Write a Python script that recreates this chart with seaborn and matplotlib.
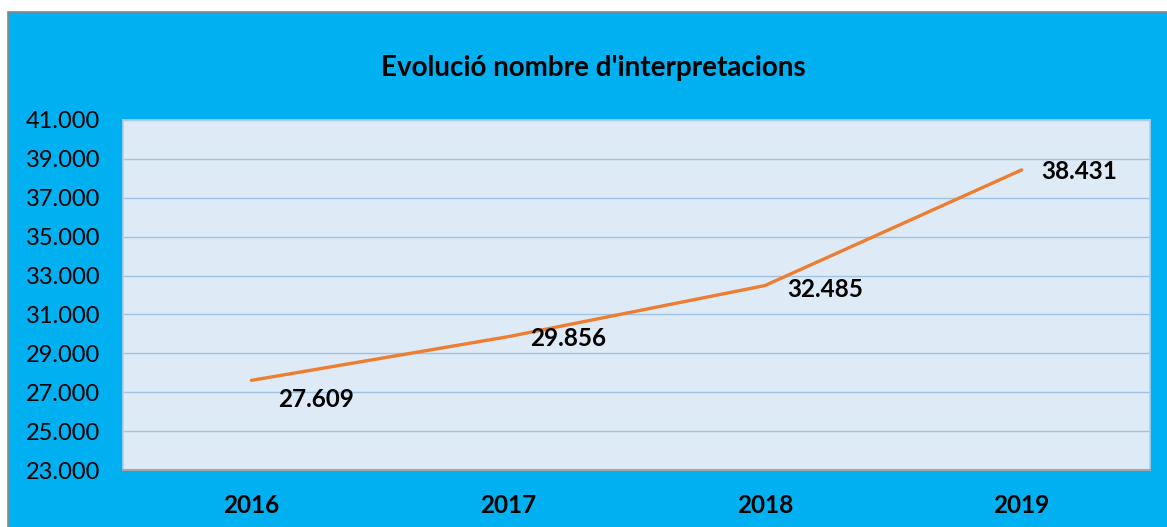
import matplotlib
matplotlib.use("Agg")
import matplotlib.pyplot as plt
import matplotlib.patches as patches
import seaborn as sns
import pandas as pd

# data
years = ["2016", "2017", "2018", "2019"]
interpretacions = [27609, 29856, 32485, 38431]
title = "Evolució nombre d'interpretacions"

# label offsets (pixels) relative to each point
label_dx = [65, 60, 60, 58]
label_dy = [-19, -2, -4, -2]

BLUE = "#00B0F0"
PLOT_BG = "#DEEBF7"
GRID = "#9DC3E6"
ORANGE = "#ED7D31"


def fmt(v):
    return f"{v:,.0f}".replace(",", ".")


def main():
    sns.set_style("white")
    plt.rcParams["font.family"] = ["Lato", "DejaVu Sans"]

    df = pd.DataFrame({"any": years, "valor": interpretacions})

    fig = plt.figure(figsize=(11.67, 5.27), dpi=100, facecolor="white")
    # blue chart area with gray frame, leaving a white strip on top/left
    W, H = 1167, 527
    bg = patches.Rectangle((8 / W, -0.01), 1.02 - 8 / W, 1.01 - 12 / H,
                           transform=fig.transFigure, facecolor=BLUE,
                           edgecolor="#888888", linewidth=1.2, zorder=-10)
    fig.patches.append(bg)

    ax = fig.add_axes([123 / W, 1 - 470 / H, (1150 - 123) / W, (470 - 120) / H])
    ax.set_facecolor(PLOT_BG)

    sns.lineplot(data=df, x="any", y="valor", ax=ax, color=ORANGE,
                 linewidth=2.4, sort=False, zorder=3)

    ax.set_xlim(-0.5, len(years) - 0.5)
    ax.set_ylim(23000, 41000)
    yt = list(range(23000, 41001, 2000))
    ax.set_yticks(yt)
    ax.set_yticklabels([fmt(v) for v in yt], fontsize=17, color="black")
    ax.set_xticks(range(len(years)))
    ax.set_xticklabels(years, fontsize=17.5, fontweight="bold", color="black")
    ax.tick_params(axis="y", length=0, pad=16.5)
    ax.tick_params(axis="x", length=0, pad=17)
    ax.grid(axis="y", color=GRID, linewidth=1)
    ax.set_axisbelow(True)
    ax.set_xlabel("")
    ax.set_ylabel("")

    for side in ["top", "right", "left"]:
        ax.spines[side].set_color("#B4CDE8")
        ax.spines[side].set_linewidth(1.2)
    ax.spines["bottom"].set_color("#A6A6A6")
    ax.spines["bottom"].set_linewidth(1.5)

    for i, v in enumerate(interpretacions):
        ax.annotate(fmt(v), (i, v), xytext=(label_dx[i], label_dy[i]),
                    textcoords="offset pixels", ha="center", va="center",
                    fontsize=17.5, fontweight="bold", color="black", zorder=4)

    fig.text(593 / W, 1 - 68 / H, title, ha="center", va="center",
             fontsize=20, fontweight="bold", color="black")

    fig.savefig("out.png", dpi=100, facecolor="white")


if __name__ == "__main__":
    main()
